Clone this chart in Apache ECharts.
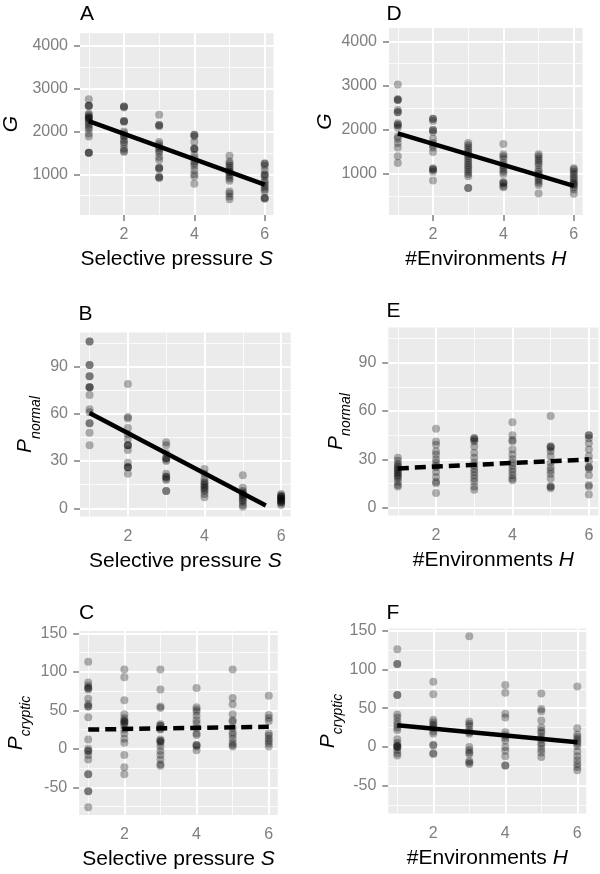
<!DOCTYPE html>
<html><head><meta charset="utf-8">
<script src="https://cdn.jsdelivr.net/npm/echarts@6/dist/echarts.min.js"></script>
<style>html,body{margin:0;padding:0;background:#fff}#c{width:600px;height:874px}</style>
</head><body><div id="c"></div>
<script>
// ---- categories / tick labels ----
const xLevels = [1, 2, 3, 4, 5, 6];
const xTickValues = [2, 4, 6];
const xMinorValues = [1, 3, 5];
const gTickValues = [1000, 2000, 3000, 4000];
const gMinorValues = [500, 1500, 2500, 3500];
const pNormalTickValues = [0, 30, 60, 90];
const pNormalMinorValues = [15, 45, 75, 105];
const pCrypticTickValues = [-50, 0, 50, 100, 150];
const pCrypticMinorValues = [-75, -25, 25, 75, 125];

// ---- Panel A: G vs selective pressure S (values per S level) ----
const gByS = [
  [2750, 2600, 2600, 2600, 2420, 2380, 2350, 2320, 2300, 2300, 2250, 2200, 2150, 2100, 2050, 1950, 1880, 1500, 1500, 1500],
  [2580, 2580, 2560, 2240, 2240, 2220, 2000, 1950, 1900, 1880, 1800, 1750, 1700, 1600, 1550, 1520],
  [2390, 2150, 2150, 2120, 1750, 1700, 1650, 1600, 1550, 1500, 1400, 1330, 1150, 1150, 1120, 950, 920, 920],
  [1920, 1920, 1880, 1750, 1600, 1600, 1580, 1450, 1380, 1300, 1250, 1200, 1100, 1000, 950, 780],
  [1430, 1300, 1250, 1200, 1150, 1100, 1050, 1050, 1000, 950, 900, 850, 600, 550, 480, 420],
  [1250, 1250, 1200, 1100, 1000, 980, 950, 850, 800, 750, 700, 650, 600, 450, 440, 430]
];
const gBySFit = [[1, 2240], [6, 760]];

// ---- Panel B: P_normal vs S ----
const pNormalByS = [
  [106, 106, 91, 91, 84, 84, 77, 77, 77, 72, 63, 61, 54, 54, 48, 40],
  [79, 58, 57, 51, 47, 44, 40, 40, 40, 37, 29, 26, 26, 26, 22],
  [42, 40, 35, 32, 32, 31, 30, 22, 20, 20, 19, 18, 11, 11],
  [25, 22, 19, 17, 16, 15, 14, 13, 12, 11, 9, 7],
  [21, 13, 11, 10, 9, 9, 8, 7, 6, 5, 4, 2, 1],
  [9, 8, 8, 7, 7, 6, 6, 5, 5, 4, 4, 3, 2]
];
const pNormalBySFit = [[1, 60.5], [5.6, 1.8]];

// ---- Panel C: P_cryptic vs S ----
const pCrypticByS = [
  [113, 86, 82, 79, 79, 77, 65, 58, 55, 55, 41, 12, 0, -3, -3, -8, -14, -33, -33, -55, -55, -76],
  [103, 93, 63, 45, 40, 37, 35, 35, 33, 30, 25, 20, 13, 8, -8, -24, -33],
  [103, 77, 55, 53, 32, 30, 30, 26, 25, 12, 10, 10, 8, 3, -3, -8, -14, -20, -22],
  [79, 54, 51, 48, 43, 37, 33, 27, 20, 18, 5, 5, 3, -2],
  [103, 66, 58, 45, 37, 35, 27, 21, 18, 13, 8, 5, 3],
  [69, 44, 40, 36, 20, 17, 13, 10, 7, 3]
];
const pCrypticBySFit = [[1, 25], [6, 28.5]];

// ---- Panel D: G vs #environments H ----
const gByH = [
  [3030, 2700, 2680, 2680, 2450, 2400, 2400, 2150, 2120, 2100, 2050, 1850, 1800, 1700, 1600, 1400, 1250],
  [2250, 2250, 2200, 2000, 2000, 1950, 1800, 1700, 1650, 1600, 1500, 1130, 1100, 1100, 1050, 850],
  [1700, 1650, 1600, 1550, 1500, 1450, 1400, 1350, 1300, 1250, 1200, 1150, 1100, 1050, 1000, 950, 680, 680],
  [1680, 1450, 1400, 1350, 1250, 1200, 1150, 1100, 1050, 1000, 820, 800, 780, 720, 700],
  [1450, 1400, 1350, 1300, 1250, 1200, 1100, 1050, 1000, 950, 900, 850, 800, 750, 560],
  [1130, 1100, 1050, 1000, 950, 900, 850, 800, 780, 750, 700, 650, 550]
];
const gByHFit = [[1, 1920], [6, 730]];

// ---- Panel E: P_normal vs H ----
const pNormalByH = [
  [31, 29, 27, 26, 25, 24, 23, 22, 21, 20, 19, 18, 16, 14, 13],
  [49, 41, 39, 35, 33, 30, 28, 26, 25, 22, 19, 16, 15, 9],
  [43, 43, 42, 41, 38, 34, 31, 28, 26, 24, 22, 20, 18, 16, 13, 11],
  [53, 45, 42, 41, 36, 33, 30, 28, 26, 24, 22, 20, 18, 17],
  [57, 38, 38, 37, 35, 32, 28, 25, 23, 21, 18, 13, 13, 12],
  [45, 45, 43, 40, 36, 32, 29, 25, 25, 24, 20, 14, 13, 8]
];
const pNormalByHFit = [[1, 24.3], [6, 29.9]];

// ---- Panel F: P_cryptic vs H ----
const pCrypticByH = [
  [126, 107, 107, 67, 67, 42, 38, 33, 29, 25, 22, 10, 5, 2, 1, 0, 0, -4, -8, -11],
  [84, 68, 35, 32, 29, 27, 24, 20, 17, 3, 2, -8, -9],
  [143, 33, 30, 27, 22, 19, 17, 0, -4, -7, -9, -18, -20, -22],
  [80, 70, 43, 38, 19, 15, 12, 8, 0, -5, -12, -24, -24],
  [69, 49, 46, 34, 25, 21, 18, 13, 10, 5, 2, -3, -7, -13],
  [78, 24, 16, 13, 10, 7, 4, 1, -6, -12, -17, -22, -26, -30]
];
const pCrypticByHFit = [[1, 28], [6, 6]];

// ---- layout / style ----
const FONT = '"Liberation Sans", Arial, Helvetica, sans-serif';
const GREY = '#7f7f7f';
const panels = [
  {letter: 'A', vals: gByS, fit: gBySFit, dashed: false, grid: [80, 33.2, 193.5, 181.8], y: [50, 4290], yTicks: gTickValues, yMinor: gMinorValues, yName: '{p|G}', yGap: 51, xName: 'S', xTitle: 'Selective pressure ', title: [80, 4]},
  {letter: 'B', vals: pNormalByS, fit: pNormalBySFit, dashed: false, grid: [80, 332.4, 210.7, 184.2], y: [-5.3, 111.8], yTicks: pNormalTickValues, yMinor: pNormalMinorValues, yName: '{p|P}{s|normal}', yGap: 37, xName: 'S', xTitle: 'Selective pressure ', title: [78.5, 304]},
  {letter: 'C', vals: pCrypticByS, fit: pCrypticBySFit, dashed: true, grid: [79.2, 631, 198.6, 184], y: [-86, 153], yTicks: pCrypticTickValues, yMinor: pCrypticMinorValues, yName: '{p|P}{s|cryptic}', yGap: 46, xName: 'S', xTitle: 'Selective pressure ', title: [79, 602.5]},
  {letter: 'D', vals: gByH, fit: gByHFit, dashed: false, grid: [389, 28, 193.6, 187], y: [70, 4310], yTicks: gTickValues, yMinor: gMinorValues, yName: '{p|G}', yGap: 46.5, xName: 'H', xTitle: '#Environments ', title: [386.5, 4]},
  {letter: 'E', vals: pNormalByH, fit: pNormalByHFit, dashed: true, grid: [388.3, 327.5, 210.1, 188], y: [-5, 112], yTicks: pNormalTickValues, yMinor: pNormalMinorValues, yName: '{p|P}{s|normal}', yGap: 35, xName: 'H', xTitle: '#Environments ', title: [386.5, 300.5]},
  {letter: 'F', vals: pCrypticByH, fit: pCrypticByHFit, dashed: false, grid: [388.3, 628.4, 198, 185.2], y: [-86, 153], yTicks: pCrypticTickValues, yMinor: pCrypticMinorValues, yName: '{p|P}{s|cryptic}', yGap: 43, xName: 'H', xTitle: '#Environments ', title: [386.5, 602.5]}
];

const grids = [], xAxes = [], yAxes = [], series = [], titles = [];
const numFmt = v => String(v);
panels.forEach((p, i) => {
  grids.push({left: p.grid[0], top: p.grid[1], width: p.grid[2], height: p.grid[3],
    show: true, backgroundColor: '#ebebeb', borderWidth: 0, containLabel: false, outerBoundsMode: 'none'});
  titles.push({text: p.letter, left: p.title[0], top: p.title[1], padding: 0,
    textStyle: {fontFamily: FONT, fontSize: 21, fontWeight: 'normal', color: '#000'}});
  const common = {
    axisLine: {show: false},
    splitLine: {show: false},
    minorTick: {show: false},
    minorSplitLine: {show: false}
  };
  xAxes.push(Object.assign({}, common, {
    type: 'value', gridIndex: i, min: 0.75, max: 6.25,
    axisTick: {show: true, length: 6, customValues: xTickValues, lineStyle: {color: GREY, width: 1.5}},
    axisLabel: {customValues: xTickValues, formatter: numFmt, color: GREY, fontSize: 16, fontFamily: FONT, margin: 12},
    name: '{n|' + p.xTitle + '}{i|' + p.xName + '}', nameLocation: 'middle', nameGap: 34,
    nameTextStyle: {rich: {n: {fontFamily: FONT, fontSize: 21, color: '#000'}, i: {fontFamily: FONT, fontSize: 21, fontStyle: 'italic', color: '#000'}}}
  }));
  yAxes.push(Object.assign({}, common, {
    type: 'value', gridIndex: i, min: p.y[0], max: p.y[1],
    axisTick: {show: true, length: 6, customValues: p.yTicks, lineStyle: {color: GREY, width: 1.5}},
    axisLabel: {customValues: p.yTicks, formatter: numFmt, color: GREY, fontSize: 16, fontFamily: FONT, margin: 12},
    name: p.yName, nameLocation: 'middle', nameRotate: 90, nameGap: p.yGap,
    nameTextStyle: {rich: {
      p: {fontFamily: FONT, fontSize: 21, fontStyle: 'italic', color: '#000', lineHeight: 28, verticalAlign: 'top'},
      s: {fontFamily: FONT, fontSize: 14, fontStyle: 'italic', color: '#000', lineHeight: 28, verticalAlign: 'bottom'}
    }}
  }));
  // background grid lines (ggplot style), placed through the axes' scales
  const gl = [];
  xMinorValues.forEach(v => gl.push({xAxis: v, lineStyle: {color: '#fff', width: 0.8, type: 'solid'}}));
  p.yMinor.forEach(v => { if (v > p.y[0] && v < p.y[1]) gl.push({yAxis: v, lineStyle: {color: '#fff', width: 0.8, type: 'solid'}}); });
  xTickValues.forEach(v => gl.push({xAxis: v, lineStyle: {color: '#fff', width: 2, type: 'solid'}}));
  p.yTicks.forEach(v => gl.push({yAxis: v, lineStyle: {color: '#fff', width: 2, type: 'solid'}}));
  series.push({type: 'line', xAxisIndex: i, yAxisIndex: i, data: [], z: 1, silent: true,
    markLine: {silent: true, symbol: 'none', label: {show: false}, animation: false, z: 1, data: gl}});
  const pts = [];
  p.vals.forEach((col, k) => col.forEach(v => pts.push([xLevels[k], v])));
  series.push({type: 'scatter', xAxisIndex: i, yAxisIndex: i, data: pts, symbol: 'circle', symbolSize: 8,
    itemStyle: {color: 'rgba(0,0,0,0.37)'}, z: 3, silent: true});
  series.push({type: 'line', xAxisIndex: i, yAxisIndex: i, data: p.fit, symbol: 'none', z: 4, silent: true,
    lineStyle: {color: '#000', width: 4.5, type: p.dashed ? [11, 6] : 'solid', cap: 'butt'}});
});

const chart = echarts.init(document.getElementById('c'), null, {renderer: 'canvas'});
chart.setOption({animation: false, backgroundColor: '#ffffff', title: titles, grid: grids, xAxis: xAxes, yAxis: yAxes, series: series});
</script></body></html>
